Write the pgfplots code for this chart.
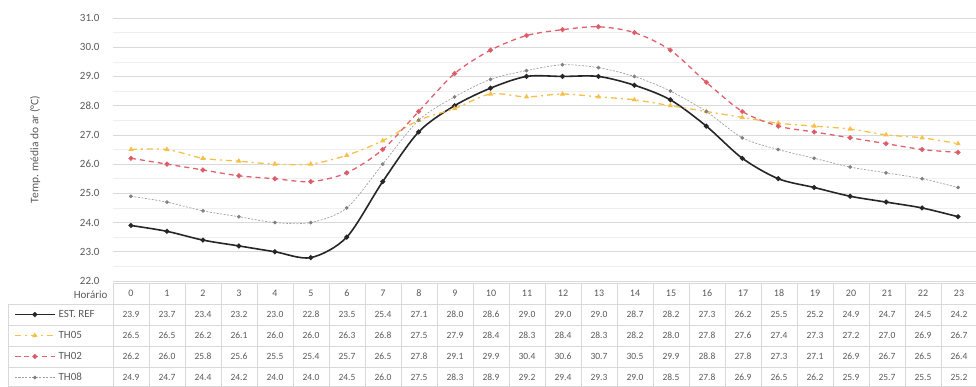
\documentclass[border=0pt]{standalone}
\usepackage{fontspec}
\setmainfont{Carlito}
\usepackage{pgfplots}
\pgfplotsset{compat=1.18}
\definecolor{txt}{HTML}{595959}
\definecolor{cref}{HTML}{262626}
\definecolor{cfive}{HTML}{F5C04A}
\definecolor{ctwo}{HTML}{E0606E}
\definecolor{ceight}{HTML}{A0A0A0}
\definecolor{gridmaj}{HTML}{D9D9D9}
\definecolor{gridmin}{HTML}{EFEFEF}
\pgfplotstableread{
h ref th05 th02 th08
0 23.9 26.5 26.2 24.9
1 23.7 26.5 26.0 24.7
2 23.4 26.2 25.8 24.4
3 23.2 26.1 25.6 24.2
4 23.0 26.0 25.5 24.0
5 22.8 26.0 25.4 24.0
6 23.5 26.3 25.7 24.5
7 25.4 26.8 26.5 26.0
8 27.1 27.5 27.8 27.5
9 28.0 27.9 29.1 28.3
10 28.6 28.4 29.9 28.9
11 29.0 28.3 30.4 29.2
12 29.0 28.4 30.6 29.4
13 29.0 28.3 30.7 29.3
14 28.7 28.2 30.5 29.0
15 28.2 28.0 29.9 28.5
16 27.3 27.8 28.8 27.8
17 26.2 27.6 27.8 26.9
18 25.5 27.4 27.3 26.5
19 25.2 27.3 27.1 26.2
20 24.9 27.2 26.9 25.9
21 24.7 27.0 26.7 25.7
22 24.5 26.9 26.5 25.5
23 24.2 26.7 26.4 25.2
}\datatab
\begin{document}
\begin{tikzpicture}
\useasboundingbox (0pt,0pt) rectangle (976pt,387pt);
\begin{axis}[
  at={(113pt,106pt)}, anchor=south west,
  scale only axis, width=863pt, height=263pt,
  xmin=-0.5, xmax=23.5, ymin=22, ymax=31,
  ytick={22,23,...,31},
  minor ytick={22.5,23.5,...,30.5},
  xtick=\empty,
  minor xtick={-0.5,0,...,23.5},
  xminorgrids, ymajorgrids, yminorgrids,
  major grid style={gridmaj, line width=0.6pt},
  minor grid style={gridmin, line width=0.5pt},
  major tick length=0pt, minor tick length=0pt,
  axis line style={draw=none},
  tick style={draw=none},
  /pgf/number format/assume math mode=true,
  yticklabel style={/pgf/number format/fixed, /pgf/number format/fixed zerofill, /pgf/number format/precision=1},
  yticklabel style={font=\fontsize{11}{12}\selectfont, text=txt, xshift=-10pt},
  ylabel={Temp. média do ar (°C)},
  ylabel style={at={(axis description cs:-0.0904,0.5)}, anchor=center, font=\fontsize{11.5}{13}\selectfont, text=txt},
  clip=false,
  legend image code/.code={\draw[mark repeat=2, mark phase=2, #1] plot coordinates {(0pt,0pt)(20pt,0pt)(40pt,0pt)};},
  legend style={draw=none, fill=none, at={(axis description cs:-0.1147,-0.0875)}, anchor=north west,
    inner sep=0pt, outer sep=0pt, row sep=0pt, column sep=3pt,
    nodes={inner sep=0pt, minimum height=21pt, font=\fontsize{11}{12}\selectfont, text=txt}},
  legend cell align=left,
]
\addplot[cref, line width=1.6pt, smooth, tension=0.5, mark=*, mark size=1.6pt, mark options={solid, fill=cref}] table[x=h, y=ref] {\datatab};
\addlegendentry{EST. REF}
\addplot[cfive, line width=1.3pt, dash pattern=on 6pt off 4pt on 2pt off 4pt, smooth, tension=0.5, mark=triangle*, mark size=1.8pt, mark options={solid, fill=cfive}] table[x=h, y=th05] {\datatab};
\addlegendentry{TH05}
\addplot[ctwo, line width=1.3pt, dash pattern=on 5pt off 4pt, smooth, tension=0.5, mark=*, mark size=1.8pt, mark options={solid, fill=ctwo!85!black}] table[x=h, y=th02] {\datatab};
\addlegendentry{TH02}
\addplot[ceight, line width=0.7pt, dash pattern=on 2pt off 1.5pt, smooth, tension=0.5, mark=*, mark size=1.5pt, mark options={solid, fill=gray, draw=gray}] table[x=h, y=th08] {\datatab};
\addlegendentry{TH08}
\end{axis}
% data table
\begin{scope}[gridmaj, line width=0.6pt]
\draw (113pt,104pt) -- (976pt,104pt);
\foreach \yy in {83,62,41,20,0.3} {\draw (8pt,{\yy*1pt}) -- (976pt,{\yy*1pt});}
\draw (8pt,0pt) -- (8pt,83pt);
\foreach \k in {0,...,24} {\draw ({(113+36*\k)*1pt},0pt) -- ({(113+36*\k)*1pt},104pt);}
\end{scope}
\node[anchor=east, font=\fontsize{11}{12}\selectfont, text=txt] at (111pt,92.5pt) {Horário};
\foreach \k in {0,...,23} {\node[font=\fontsize{10}{11}\selectfont, text=txt] at ({(131+36*\k)*1pt},93.5pt) {\k};}
\foreach \col/\yy in {ref/72.5, th05/51.5, th02/30.5, th08/9.5} {
  \foreach \k in {0,...,23} {
    \pgfplotstablegetelem{\k}{\col}\of\datatab
    \node[font=\fontsize{9.5}{11}\selectfont, text=txt] at ({(131+36*\k)*1pt},{\yy*1pt}) {\pgfmathprintnumber[fixed, fixed zerofill, precision=1, assume math mode=true]{\pgfplotsretval}};
  }
}
\end{tikzpicture}
\end{document}
